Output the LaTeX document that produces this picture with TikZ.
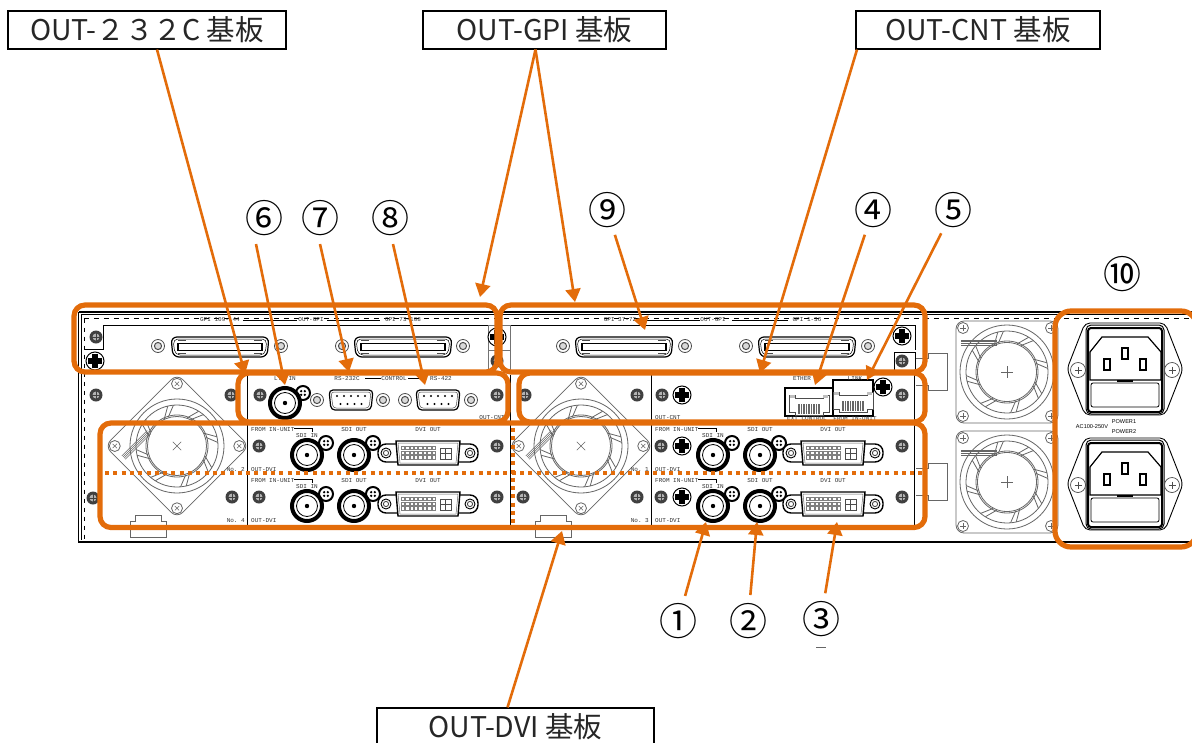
\documentclass[tikz,border=0pt]{standalone}
\usepackage{fontspec}
\setmainfont{Liberation Sans}
\setmonofont{Liberation Mono}
\newfontfamily\jpf{Noto Sans CJK JP}
\usetikzlibrary{arrows.meta,calc}
\definecolor{org}{HTML}{E36C0A}
\tikzset{
 hl/.style={draw=org,line width=5.2pt,rounded corners=11pt},
 arr/.style={draw=org,line width=2.6pt,-{Triangle[length=13pt,width=15pt]}},
 lab/.style={draw=black,line width=1.2pt,fill=white,minimum height=38pt,inner sep=0pt,font=\jpf\fontsize{28.5}{28.5}\selectfont,text=black!85},
 num/.style={circle,inner sep=0pt,minimum size=36pt,font=\jpf\fontsize{38}{38}\selectfont},
 tiny/.style={font=\ttfamily\fontsize{6}{6}\selectfont,inner sep=0pt,text=black!80},
 fanl/.style={draw=black!60,line width=.8pt},
 ln/.style={draw=black,line width=1pt},
}
\newcommand{\Nut}[2]{\draw[black!70,line width=.8pt,fill=white] (#1,#2) circle (6.5);\draw[black!70,line width=1pt,fill=black!15] (#1,#2) circle (3.6);}
\newcommand{\Scr}[2]{\fill[black!75] (#1,#2) circle (6.5);\fill[black!30] (#1,#2) circle (3.5);\draw[black!75,line width=.9pt] (#1-4,#2)--(#1+4,#2) (#1,#2-4)--(#1,#2+4);}
\newcommand{\Blk}[2]{\draw[black,line width=1pt,fill=white] (#1,#2) circle (9);\fill[black] (#1-7,#2-3) rectangle (#1+7,#2+3);\fill[black] (#1-3,#2-7) rectangle (#1+3,#2+7);}
\newcommand{\Knob}[2]{\draw[black,line width=2pt,fill=white] (#1,#2) circle (7);\foreach \a in {45,135,225,315}{\fill[black] ($(#1,#2)+(\a:2.6)$) circle (1.3);}}
\newcommand{\BNC}[4]{\Knob{#3}{#4}\draw[black,line width=4pt,fill=white] (#1,#2) circle (15);\draw[black,line width=.8pt] (#1,#2) circle (10.5);\fill[black] (#1,#2) circle (2.2);}
\newcommand{\DSub}[2]{\draw[black,line width=1.2pt,fill=white,rounded corners=4pt] (#1-22,#2-10)--(#1+22,#2-10)--(#1+20,#2+10)--(#1-20,#2+10)--cycle;
 \draw[black!70,line width=.5pt,rounded corners=3pt] (#1-20,#2-8)--(#1+20,#2-8)--(#1+18,#2+8)--(#1-18,#2+8)--cycle;
 \foreach \i in {-2,...,2}{\fill[black] (#1+\i*7,#2-4) circle (1.1);}
 \foreach \i in {-1.5,-.5,.5,1.5}{\fill[black] (#1+\i*7,#2+4) circle (1.1);}}
\newcommand{\SCSI}[2]{\draw[black,line width=1.2pt,fill=white,rounded corners=6pt] (#1-49,#2-10)--(#1+49,#2-10)--(#1+47,#2+10)--(#1-47,#2+10)--cycle;
 \draw[black,line width=.5pt,rounded corners=5pt] (#1-47,#2-8)--(#1+47,#2-8)--(#1+45,#2+8)--(#1-45,#2+8)--cycle;
 \draw[black,line width=1.1pt,fill=white] (#1-42,#2-3.5) rectangle (#1+42,#2+3.5);
 \foreach \s in {-1,1}{\foreach \t in {-1,1}{\fill[black!70] (#1+\s*38-4,#2+\t*6.5-.8) rectangle (#1+\s*38+4,#2+\t*6.5+.8);}}}
\newcommand{\DVI}[2]{\draw[black,line width=1.4pt,fill=white,rounded corners=8pt] (#1-50,#2-9)--(#1+50,#2-9)--(#1+50,#2+9)--(#1-50,#2+9)--cycle;
 \draw[black,line width=1.4pt,fill=white] (#1-32,#2-12)--(#1+32,#2-12)--(#1+30,#2+12)--(#1-30,#2+12)--cycle;
 \draw[black!60,line width=.5pt] (#1-30,#2-10)--(#1+30,#2-10)--(#1+28,#2+10)--(#1-28,#2+10)--cycle;
 \foreach \s in {-1,1}{\draw[black,line width=.9pt,fill=white] (#1+\s*42,#2) circle (5);\draw[black!70,line width=.9pt] (#1+\s*42,#2) circle (2.6);}
 \foreach \i in {0,...,7}{\foreach \j in {0,1,2}{\draw[black!50,line width=.4pt] (#1-27+\i*4.4,#2-7+\j*4.8) rectangle +(3.4,3.6);}}
 \draw[black!70,line width=.5pt] (#1+12,#2-5) rectangle (#1+23,#2+6) (#1+17.5,#2-5)--(#1+17.5,#2+6) (#1+12,#2+.5)--(#1+23,#2+.5);}
\newcommand{\RJ}[3]{\draw[black!70,line width=.8pt,fill=white] (#1-20,#2-9)--(#1-14,#2-9)--(#1-14,#2-6)--(#1+14,#2-6)--(#1+14,#2-9)--(#1+20,#2-9)--(#1+20,#2+8)--(#1+14,#2+8)--(#1+14,#2+11)--(#1-14,#2+11)--(#1-14,#2+8)--(#1-20,#2+8)--cycle;
 \foreach \i in {-4,...,4}{\fill[black!60] (#1+\i*2.5-.7,#2) rectangle (#1+\i*2.5+.7,#2+10);}
 \fill[black!25] (#1-19,#2-9) rectangle (#1-14,#2-6);\fill[black!25] (#1+14,#2-9) rectangle (#1+19,#2-6);}
\newcommand{\FanS}[2]{\fill[white] (#1,#2) circle (5.5);\draw[fanl] (#1,#2) circle (5.5);\draw[fanl,line width=.6pt] (#1-3,#2)--(#1+3,#2) (#1,#2-3)--(#1,#2+3);}
\newcommand{\Fan}[3]{\begin{scope}[shift={(#1,#2)},rotate=#3]
 \draw[fanl,rounded corners=8pt] (-51,-51) rectangle (51,51);
 \draw[fanl] (0,0) circle (47);
 \draw[fanl] (0,0) circle (41);
 \draw[fanl,fill=white] (0,0) circle (31);
 \draw[fanl] (0,0) circle (29.5);
 \foreach \a in {20,65,110,155,200,245,290,335}{\draw[fanl] (\a:30)--(\a+12:41) (\a+8:30)--(\a+20:41);}
 \foreach \s in {0,1.6,3.2,4.8}{\draw[fanl,line width=.5pt] (-46,-32+\s)--(-10,-32+\s);}
 \foreach \p/\q in {-44/-44,44/-44,-44/44,44/44}{\FanS{\p}{\q}}
 \draw[fanl,line width=.6pt] (-6,0)--(6,0) (0,-6)--(0,6);
 \end{scope}}
\newcommand{\Inlet}[1]{\begin{scope}[shift={(0,#1)}]
 \draw[black,line width=.9pt,fill=white,rounded corners=5pt] (1067,369)--(1085,323)--(1165,323)--(1183,369)--(1165,415)--(1085,415)--cycle;
 \draw[black,line width=1pt,rounded corners=5pt] (1086,325)rectangle(1164,414);
 \draw[black,line width=2pt,rounded corners=3pt] (1088,328) rectangle (1162,412);
 \draw[black,line width=1.2pt] (1090,352)--(1102,337)--(1148,337)--(1161,352)--(1161,380)--(1090,380)--cycle;
 \draw[black,line width=1.2pt] (1104,359) rectangle (1110,370) (1122,348) rectangle (1128,359) (1140,359) rectangle (1146,370);
 \draw[black,line width=.8pt,rounded corners=2pt] (1091,383) rectangle (1159,407);
 \draw[black,line width=1.2pt] (1117,381)--(1133,381);
 \foreach \x in {1078,1172}{\draw[black!70,line width=.7pt] (\x,370) circle (7.5);\draw[black!70,line width=.7pt] (\x-3.5,370)--(\x+3.5,370) (\x,366.5)--(\x,373.5);}
 \end{scope}}
\begin{document}
\begin{tikzpicture}[x=1pt,y=-1pt]
\useasboundingbox (0,0) rectangle (1192,742);
\fill[white] (0,0) rectangle (1192,742);
% chassis
\draw[ln,line width=1.1pt] (79,312)--(1192,312);
\draw[ln,line width=.7pt] (81,314.5)--(1192,314.5);
\draw[ln,line width=1.1pt] (78.5,312)--(78.5,542)--(1192,542);
\draw[ln,line width=.8pt] (81,314.5)--(81,540);
\draw[black,line width=1pt,dash pattern=on 5pt off 5pt] (84,318.5)--(1192,318.5);
\draw[black,line width=1pt,dash pattern=on 4pt off 5pt] (84,318.5)--(84,540);
% panels
\draw[ln] (84,349)--(103,349)--(103,325)--(915,325)--(915,350);
\draw[ln] (247,375)--(247,529) (510,375)--(510,529) (651,375)--(651,529) (914,375)--(914,529);
\draw[black!55,line width=.7pt] (488,325) rectangle (510,350) (488,350) rectangle (510,372);
\draw[ln] (894,372)--(894,352)--(915,352)--(915,372);
% right fans
\Fan{1007}{372}{0}
\Fan{1007}{482}{0}
\Fan{177}{446}{45}
\Fan{581}{446}{45}
% tabs
\foreach \x/\y in {928/353,928/463}{\draw[fanl] (\x-12,\y+5)--(\x,\y+5)--(\x,\y)--(\x+19,\y)--(\x+19,\y+37)--(\x,\y+37)--(\x,\y+32)--(\x-12,\y+32);}
\foreach \x in {130,535}{\draw[fanl] (\x,537)--(\x,521)--(\x+5,521)--(\x+5,515)--(\x+31,515)--(\x+31,521)--(\x+36,521)--(\x+36,537)--cycle;}
% screws
\Scr{96}{337}\Blk{95}{361}\Blk{497}{337}\Scr{497}{361}\Blk{902}{336}\Scr{902}{361}
\foreach \x/\y in {96/395,231/395,260/395,497/395,525/395,637/395,662/395,902/395,259/446,497/446,661/446,902/446,93/498,232/497,259/497,497/497,523/497,637/497,661/497,902/497}{\Scr{\x}{\y}}
\Blk{682}{395}\Blk{682}{446}\Blk{682}{497}\Blk{883}{387}
% GPI
\foreach \x in {158,281,342,463,563,685,746,868}{\Nut{\x}{346}}
\SCSI{220}{347}\SCSI{403}{347}\SCSI{624}{347}\SCSI{807}{347}
\node[tiny] at (220,320) {GPI 109-144};
\node[tiny] at (311,320) {OUT-GPI};
\node[tiny] at (403,320) {GPI 73-108};
\node[tiny] at (620,320) {GPI 37-72};
\node[tiny] at (713,320) {OUT-GPI};
\node[tiny] at (807,320) {GPI 1-36};
\draw[ln] (243,320)--(297,320) (327,320)--(380,320) (647,320)--(700,320) (732,320)--(788,320);
% control
\BNC{285}{403}{303}{393}
\foreach \x in {317,383,405,471}{\Nut{\x}{400}}
\DSub{351}{400}\DSub{438}{400}
\node[tiny] at (285,378.5) {LTC IN};
\node[tiny] at (347,378.5) {RS-232C};
\node[tiny] at (394,378.5) {CONTROL};
\node[tiny] at (441,378.5) {RS-422};
\draw[ln] (365,378.5)--(381,378.5) (408,378.5)--(426,378.5);
\node[tiny] at (492,418) {OUT-CNT};
% CNT
\draw[black,line width=1.4pt] (785,388) rectangle (833,416) (833,380) rectangle (873,416);
\RJ{809}{404}{}\RJ{853}{401}{}
\node[tiny] at (802,378.5) {ETHER};
\node[tiny] at (855,378.5) {LINK};
\node[tiny] at (807,419) {EXT CONTROL};
\node[tiny] at (855,419) {FROM IN-UNIT};
\node[tiny,anchor=west] at (655,418) {OUT-CNT};
% DVI
\foreach \x/\t/\n/\y/\d in {
 251/307/2/0/428, 251/307/4/51/428, 655/713/1/0/833, 655/713/3/51/833}{
 \pgfmathsetmacro{\bx}{\t}\pgfmathsetmacro{\ky}{443+\y}\pgfmathsetmacro{\by}{455+\y}\pgfmathsetmacro{\kx}{\t+19}\pgfmathsetmacro{\cx}{\t+47}\pgfmathsetmacro{\dx}{\t+66}\pgfmathsetmacro{\vy}{453+\y}
 \BNC{\bx}{\by}{\kx}{\ky}\BNC{\cx}{\by}{\dx}{\ky}\DVI{\d}{\vy}
 \node[tiny,anchor=west] at (\x,429.5+\y) {FROM IN-UNIT};
 \draw[ln,line width=.9pt] (\x+43,428.5+\y)--(\x+61,428.5+\y)--(\x+61,431.5+\y);
 \node[tiny] at (\t,436+\y) {SDI IN};
 \node[tiny] at (\cx,429.5+\y) {SDI OUT};
 \node[tiny] at (\d,429.5+\y) {DVI OUT};
 \node[tiny,anchor=west] at (\x,470+\y) {OUT-DVI};
 \node[tiny,anchor=east] at (\x-6,470+\y) {No. \n};
}
% power
\Inlet{0}\Inlet{115}
\node[font=\fontsize{5.6}{6}\selectfont,inner sep=0pt] at (1092,427) {AC100-250V};
\node[font=\fontsize{5.6}{6}\selectfont,inner sep=0pt] at (1124,422) {POWER1};
\node[font=\fontsize{5.6}{6}\selectfont,inner sep=0pt] at (1124,432) {POWER2};
% fragment
\draw[black!60,line width=1pt] (816,647)--(826,647);
% orange boxes
\draw[hl] (74,305) rectangle (497,372);
\draw[hl] (500,305) rectangle (925,372);
\draw[hl] (238,373) rectangle (508,422);
\draw[hl] (519,373) rectangle (925,422);
\draw[hl] (100,423) rectangle (925,527.5);
\draw[hl,rounded corners=16pt] (1055,311) rectangle (1197,547);
\draw[org,line width=4pt,dash pattern=on 4pt off 4.3pt] (105,473)--(922,473);
\draw[org,line width=4pt,dash pattern=on 4pt off 4.3pt] (513,428)--(513,524);
% labels
\node[lab,minimum width=278pt] (l232) at (147,30) {OUT-２３２C 基板};
\node[lab,minimum width=243pt] (lgpi) at (544.5,30) {OUT-GPI 基板};
\node[lab,minimum width=244pt] (lcnt) at (978,30) {OUT-CNT 基板};
\node[lab,minimum width=277pt] (ldvi) at (515.5,727) {OUT-DVI 基板};
\node[num] (n1) at (678,621) {①};
\node[num] (n2) at (748,621) {②};
\node[num] (n3) at (821,619) {③};
\node[num] (n4) at (873,210) {④};
\node[num] (n5) at (953,210) {⑤};
\node[num] (n6) at (264,218) {⑥};
\node[num] (n7) at (320,218) {⑦};
\node[num] (n8) at (390,218) {⑧};
\node[num] (n9) at (607,210) {⑨};
\node[num] (n10) at (1122,274) {⑩};
% targets
\coordinate (t232) at (245,374);
\coordinate (tg1) at (480,297);
\coordinate (tg2) at (575,302);
\coordinate (tc) at (760,373);
\coordinate (td) at (562,531);
\coordinate (t1) at (706,522);
\coordinate (t2) at (757,522);
\coordinate (t3) at (837,522);
\coordinate (t4) at (815,385);
\coordinate (t5) at (867,380);
\coordinate (t6) at (285,385);
\coordinate (t7) at (349,372);
\coordinate (t8) at (425,385);
\coordinate (t9) at (645,330);
\draw[arr] ([xshift=10pt]l232.south) -- (t232);
\draw[arr] ([xshift=-9pt]lgpi.south) -- (tg1);
\draw[arr] ([xshift=-9pt]lgpi.south) -- (tg2);
\draw[arr] ([xshift=-121pt]lcnt.south) -- (tc);
\draw[arr] ([xshift=-8pt]ldvi.north) -- (td);
\draw[arr] (n1) -- (t1);
\draw[arr] (n2) -- (t2);
\draw[arr] (n3) -- (t3);
\draw[arr] (n4) -- (t4);
\draw[arr] (n5) -- (t5);
\draw[arr] ([xshift=-8pt]n6.south) -- (t6);
\draw[arr] (n7.south) -- (t7);
\draw[arr] ([xshift=3pt]n8.south) -- (t8);
\draw[arr] (n9) -- (t9);
\end{tikzpicture}
\end{document}
